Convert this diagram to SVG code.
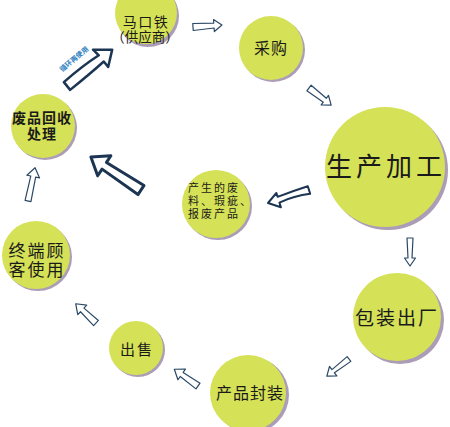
<svg xmlns="http://www.w3.org/2000/svg" width="450" height="427" viewBox="0 0 450 427">
<style>
.sh{fill:#ab9db8}
.nd{fill:#d5e156}
.t{font-family:"Liberation Sans","Noto Sans CJK SC",sans-serif;fill:#1a1a1a;text-anchor:middle;dominant-baseline:central}
.ar{fill:#ffffff;stroke:#2a4866;stroke-width:1.2;stroke-linejoin:round}
.arb{fill:#ffffff;stroke:#1c3553;stroke-linejoin:round}
</style>
<rect width="450" height="427" fill="#ffffff"/>
<g id="n-makoutie">
<circle class="sh" cx="148" cy="16" r="31"/>
<circle class="nd" cx="146" cy="13" r="31"/>
<text class="t" x="146" y="21.5" font-size="14" letter-spacing="1.5">马口铁</text>
<text class="t" x="145" y="37.5" font-size="13.5">（供应商）</text>
</g>
<g id="n-caigou">
<circle class="sh" cx="273" cy="50" r="32"/>
<circle class="nd" cx="271" cy="48" r="32"/>
<text class="t" x="271" y="48" font-size="16" letter-spacing="1">采购</text>
</g>
<g id="n-shengchan">
<circle class="sh" cx="388" cy="170" r="60"/>
<circle class="nd" cx="385" cy="167" r="60"/>
<text class="t" x="386" y="167" font-size="26" letter-spacing="4">生产加工</text>
</g>
<g id="n-baozhuang">
<circle class="sh" cx="400" cy="320" r="44"/>
<circle class="nd" cx="397" cy="317" r="44"/>
<text class="t" x="397" y="318" font-size="19" letter-spacing="2">包装出厂</text>
</g>
<g id="n-fengzhuang">
<circle class="sh" cx="251" cy="395" r="38"/>
<circle class="nd" cx="248" cy="393" r="38"/>
<text class="t" x="250" y="393" font-size="16" letter-spacing="1">产品封装</text>
</g>
<g id="n-chushou">
<circle class="sh" cx="138" cy="350" r="27"/>
<circle class="nd" cx="136" cy="348" r="27"/>
<text class="t" x="137" y="349" font-size="15" letter-spacing="2">出售</text>
</g>
<g id="n-guke">
<circle class="sh" cx="38" cy="257" r="34"/>
<circle class="nd" cx="36" cy="255" r="34"/>
<text class="t" x="37" y="251" font-size="17" letter-spacing="2">终端顾</text>
<text class="t" x="37" y="270.5" font-size="17" letter-spacing="2">客使用</text>
</g>
<g id="n-huishou">
<circle class="sh" cx="45" cy="128" r="32"/>
<circle class="nd" cx="43" cy="126" r="32"/>
<text class="t" x="42" y="118" font-size="14" font-weight="bold" letter-spacing="1">废品回收</text>
<text class="t" x="42" y="134" font-size="14" font-weight="bold" letter-spacing="1">处理</text>
</g>
<g id="n-feiliao">
<circle class="sh" cx="218" cy="206" r="34"/>
<circle class="nd" cx="216" cy="204" r="34"/>
<text class="t" x="188" y="188" font-size="11" letter-spacing="2" style="text-anchor:start">产生的废</text>
<text class="t" x="188" y="201" font-size="11" letter-spacing="2" style="text-anchor:start">料、瑕疵、</text>
<text class="t" x="188" y="214" font-size="11" letter-spacing="2" style="text-anchor:start">报废产品</text>
</g>
<g id="connectors">
<path class="ar" transform="translate(193,27) rotate(-4)" d="M0,-3.5 L21,-2.5 L21,-6 L29,0 L21,6 L21,2.5 L0,3.5 Z"/>
<path class="ar" transform="translate(309,88) rotate(37.7)" d="M0,-3.5 L20,-2.5 L20,-6 L28,0 L20,6 L20,2.5 L0,3.5 Z"/>
<path class="ar" transform="translate(410,238) rotate(90)" d="M0,-3 L20,-2 L20,-5.5 L28,0 L20,5.5 L20,2 L0,3 Z"/>
<path class="ar" transform="translate(349,359) rotate(142.3)" d="M0,-3 L20,-2 L20,-6 L28,0 L20,6 L20,2 L0,3 Z"/>
<path class="ar" transform="translate(198,386) rotate(-144.7)" d="M0,-3.5 L20,-2.5 L20,-6.5 L29,0 L20,6.5 L20,2.5 L0,3.5 Z"/>
<path class="ar" transform="translate(96,323) rotate(-136.5)" d="M0,-3.5 L19,-2.5 L19,-6.5 L28,0 L19,6.5 L19,2.5 L0,3.5 Z"/>
<path class="ar" transform="translate(28,201) rotate(-78)" d="M0,-3 L25,-2.5 L25,-6.5 L34,0 L25,6.5 L25,2.5 L0,3 Z"/>
<path class="arb" stroke-width="2" transform="translate(309,190) rotate(162.4)" d="M0,-4 Q16,-1 32,-3 L32,-8 L43,0 L32,7 L32,3 Q16,4 0,4 Z"/>
<path class="arb" stroke-width="3" transform="translate(141,190) rotate(-146.6)" d="M0,-5.5 L44,-4 L44,-12 L60,0 L44,12 L44,4 L0,5.5 Z"/>
<path class="arb" stroke-width="2.5" transform="translate(67,86) rotate(-38.8)" d="M0,-5 Q25,-6 44,-4 L43,-12 L58,0 L44,11 L44,4 Q25,5 0,5 Z"/>
<text x="74" y="59" transform="rotate(-40 74 59)" font-family="'Liberation Sans','Noto Sans CJK SC',sans-serif" font-size="7" font-weight="bold" fill="#2e7fc0" text-anchor="middle" dominant-baseline="central">循环再使用</text>
</g>
</svg>
